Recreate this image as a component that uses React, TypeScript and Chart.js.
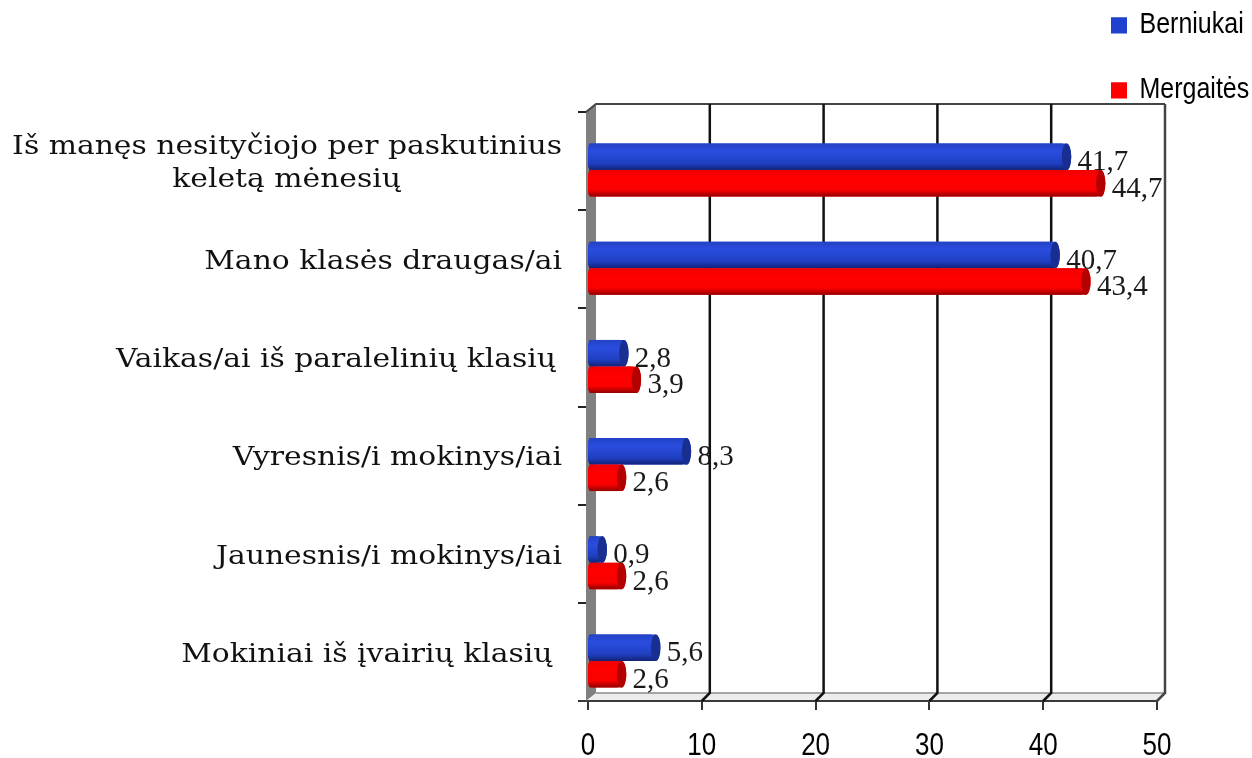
import React, { useEffect, useRef } from "react";
import { Chart, registerables } from "chart.js";

Chart.register(...registerables);

const categories: (string | string[])[] = [
  ["Iš manęs nesityčiojo per paskutinius", "keletą mėnesių                 "],
  "Mano klasės draugas/ai",
  "Vaikas/ai iš paralelinių klasių\u2009",
  "Vyresnis/i mokinys/iai",
  "Jaunesnis/i mokinys/iai",
  "Mokiniai iš įvairių klasių ",
];
const berniukai = [41.7, 40.7, 2.8, 8.3, 0.9, 5.6];
const mergaites = [44.7, 43.4, 3.9, 2.6, 2.6, 2.6];
const xTicks = [0, 10, 20, 30, 40, 50];

const DX = 8;
const DY = 8;
const BAR_SHIFT = 9;
const LABEL_STRETCH = 1.146;
const TICK_STRETCH = 1.2;
const LEGEND_STRETCH = 1.15;

const palette = [
  { solid: "#2040d0", top: "#2342c4", mid: "#2a4de0", low: "#1f3fc0", bottom: "#122277", cap: "#182e90" },
  { solid: "#ff0000", top: "#f00000", mid: "#ff0000", low: "#fa0000", bottom: "#900000", cap: "#b50000" },
];

const scene3d = {
  id: "scene3d",
  afterLayout(chart: any) {
    const lg = chart.legend;
    const pad = lg.options.labels.padding;
    lg.left = 1111 - pad;
    lg.top = 11 / LEGEND_STRETCH - pad;
    lg.right = chart.width;
    lg.bottom = chart.height;
    if (!lg.__stretched) {
      const origDraw = lg.draw;
      lg.draw = function (...args: any[]) {
        const c = this.ctx;
        c.save();
        c.scale(1, LEGEND_STRETCH);
        origDraw.apply(this, args);
        c.restore();
      };
      lg.__stretched = true;
    }
    const y = chart.scales.y;
    if (!y.__stretched) {
      const orig = y.drawLabels;
      y.drawLabels = function (area: any) {
        const c = this.ctx;
        const origin = this.right - 26;
        c.save();
        c.translate(origin, 0);
        c.scale(LABEL_STRETCH, 1);
        c.translate(-origin, 0);
        orig.call(this, area);
        c.restore();
      };
      y.__stretched = true;
    }
    const x = chart.scales.x;
    if (!x.__stretched) {
      const orig = x.drawLabels;
      x.drawLabels = function (area: any) {
        const c = this.ctx;
        const origin = this.top + 27;
        c.save();
        c.translate(0, origin);
        c.scale(1, TICK_STRETCH);
        c.translate(0, -origin);
        orig.call(this, area);
        c.restore();
      };
      x.__stretched = true;
    }
  },
  beforeDatasetsDraw(chart: any) {
    const { ctx, chartArea: a, scales } = chart;
    const x = scales.x;
    ctx.save();
    ctx.fillStyle = "#ececec";
    ctx.beginPath();
    ctx.moveTo(a.left, a.bottom);
    ctx.lineTo(a.left + DX, a.bottom - DY);
    ctx.lineTo(a.right + DX, a.bottom - DY);
    ctx.lineTo(a.right, a.bottom);
    ctx.closePath();
    ctx.fill();
    ctx.strokeStyle = "#8a8a8a";
    ctx.lineWidth = 1.5;
    ctx.beginPath();
    ctx.moveTo(a.left + DX, a.bottom - DY);
    ctx.lineTo(a.right + DX, a.bottom - DY);
    ctx.stroke();
    ctx.strokeStyle = "#3a3a3a";
    ctx.lineWidth = 2;
    ctx.beginPath();
    ctx.moveTo(a.left - 9, a.bottom);
    ctx.lineTo(a.right, a.bottom);
    ctx.stroke();
    ctx.fillStyle = "#808080";
    ctx.beginPath();
    ctx.moveTo(a.left - 2, a.top);
    ctx.lineTo(a.left + DX, a.top - DY);
    ctx.lineTo(a.left + DX, a.bottom - DY);
    ctx.lineTo(a.left - 2, a.bottom);
    ctx.closePath();
    ctx.fill();
    ctx.strokeStyle = "#444444";
    ctx.lineWidth = 2;
    ctx.beginPath();
    ctx.moveTo(a.left - 2, a.top);
    ctx.lineTo(a.left + DX, a.top - DY);
    ctx.lineTo(a.right + DX, a.top - DY);
    ctx.stroke();
    xTicks.forEach((t) => {
      const px = x.getPixelForValue(t);
      if (t === 0) return;
      ctx.strokeStyle = t === 50 ? "#444444" : "#111111";
      ctx.lineWidth = 2.5;
      ctx.beginPath();
      ctx.moveTo(px + DX, a.top - DY);
      ctx.lineTo(px + DX, a.bottom - DY);
      ctx.lineTo(px, a.bottom);
      ctx.stroke();
    });
    ctx.restore();
    ctx.save();
    ctx.translate(0, BAR_SHIFT);
  },
  afterDatasetsDraw(chart: any) {
    const { ctx } = chart;
    chart.data.datasets.forEach((ds: any, di: number) => {
      const meta = chart.getDatasetMeta(di);
      const c = palette[di];
      meta.data.forEach((el: any) => {
        const h = el.height;
        const top = el.y - h / 2;
        const capX = el.x + 4;
        const rx = 4.7;
        const g = ctx.createLinearGradient(0, top, 0, top + h);
        g.addColorStop(0, c.top);
        g.addColorStop(0.3, c.mid);
        g.addColorStop(0.75, c.low);
        g.addColorStop(1, c.bottom);
        ctx.fillStyle = g;
        ctx.beginPath();
        ctx.moveTo(el.base + 3, top);
        ctx.lineTo(capX, top);
        ctx.ellipse(capX, el.y, rx, h / 2, 0, -Math.PI / 2, Math.PI / 2);
        ctx.lineTo(el.base + 3, top + h);
        ctx.quadraticCurveTo(el.base - 1, top + h, el.base - 1, top + h - 5);
        ctx.lineTo(el.base - 1, top + 5);
        ctx.quadraticCurveTo(el.base - 1, top, el.base + 3, top);
        ctx.closePath();
        ctx.fill();
        ctx.fillStyle = c.cap;
        ctx.beginPath();
        ctx.ellipse(capX, el.y, rx, h / 2, 0, 0, Math.PI * 2);
        ctx.fill();
      });
    });
    ctx.fillStyle = "#1a1a1a";
    ctx.font = '29px "Liberation Serif"';
    ctx.textAlign = "left";
    ctx.textBaseline = "middle";
    chart.data.datasets.forEach((ds: any, di: number) => {
      chart.getDatasetMeta(di).data.forEach((el: any, i: number) => {
        const txt = String(ds.data[i]).replace(".", ",");
        ctx.fillText(txt, el.x + 15, el.y + 6);
      });
    });
    ctx.restore();
  },
};

export default function App() {
  const ref = useRef<HTMLCanvasElement>(null);
  useEffect(() => {
    const chart = new Chart(ref.current!, {
      type: "bar",
      data: {
        labels: categories as any,
        datasets: [
          { label: "Berniukai", data: berniukai, backgroundColor: palette[0].solid },
          { label: "Mergaitės", data: mergaites, backgroundColor: palette[1].solid },
        ],
      },
      options: {
        indexAxis: "y",
        responsive: false,
        animation: false,
        layout: { padding: { top: 112, right: 95, left: 0, bottom: 0 } },
        datasets: { bar: { categoryPercentage: 0.54, barPercentage: 1 } },
        plugins: {
          tooltip: { enabled: false },
          title: { display: false },
          legend: {
            display: true,
            position: "chartArea",
            align: "start",
            labels: {
              boxWidth: 16,
              boxHeight: 14,
              padding: 31.5,
              color: "#000000",
              font: { family: '"Liberation Sans"', size: 25 },
            },
          },
        },
        scales: {
          x: {
            type: "linear",
            min: 0,
            max: 50,
            afterFit: (s: any) => { s.height = 57; },
            afterBuildTicks: (s: any) => { s.ticks = xTicks.map((v) => ({ value: v })); },
            border: { display: false },
            grid: { drawOnChartArea: false, drawTicks: true, tickLength: 9, color: "#333333", lineWidth: 2 },
            ticks: {
              color: "#000000",
              padding: 18,
              maxRotation: 0,
              font: { family: '"Liberation Sans"', size: 26 },
            },
          },
          y: {
            type: "category",
            afterFit: (s: any) => { s.width = 588; },
            border: { display: false },
            grid: { drawOnChartArea: false, drawTicks: true, tickLength: 10, color: "#222222", lineWidth: 2 },
            ticks: {
              color: "#111111",
              padding: 16,
              autoSkip: false,
              labelOffset: 3,
              font: { family: '"DejaVu Serif"', size: 26, lineHeight: 1.27 },
            },
          },
        },
      } as any,
      plugins: [scene3d],
    });
    return () => chart.destroy();
  }, []);
  return (
    <div style={{ position: "absolute", left: 0, top: 0, width: 1252, height: 758, background: "#fff" }}>
      <canvas ref={ref} width={1252} height={758} style={{ display: "block" }} />
    </div>
  );
}
